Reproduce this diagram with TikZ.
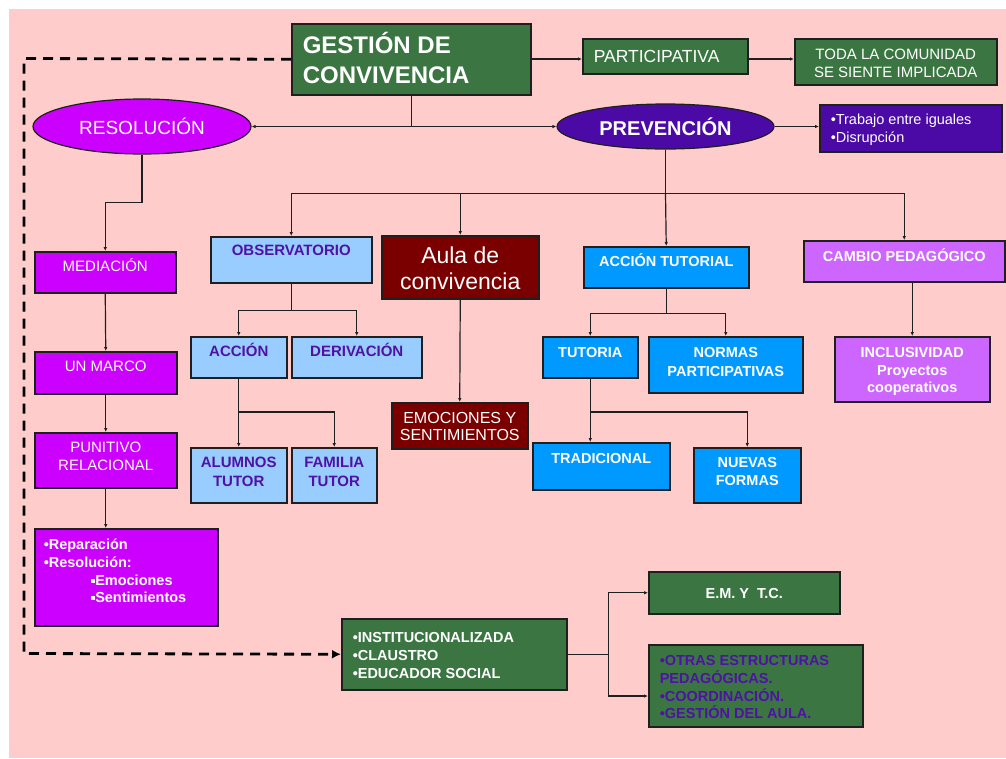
\documentclass[tikz,border=0pt]{standalone}
\usepackage{fontspec}
\setmainfont{Liberation Sans}
\usetikzlibrary{arrows.meta,shapes.geometric}
\definecolor{bgpink}{HTML}{FFCCCC}
\definecolor{dgreen}{HTML}{3B7642}
\definecolor{magen}{HTML}{CC00FF}
\definecolor{indig}{HTML}{4B0AA5}
\definecolor{lblue}{HTML}{99CCFF}
\definecolor{bblue}{HTML}{0099FF}
\definecolor{lpurp}{HTML}{CC66FF}
\definecolor{dred}{HTML}{7A0000}
\definecolor{txtind}{HTML}{4E12A6}
\newcommand{\cbx}[4]{\parbox[c][#2pt][t]{#1pt}{\centering\vspace*{\dimexpr#3pt-1em\relax}\rule{0pt}{1em}#4\par}}
\newcommand{\lbx}[5]{\parbox[c][#2pt][t]{#1pt}{\raggedright\leftskip=#4pt\vspace*{\dimexpr#3pt-1em\relax}\rule{0pt}{1em}#5\par}}
\newcommand{\fsz}[2]{\fontsize{#1pt}{#2pt}\selectfont}
\newcommand{\sqb}{\raisebox{2.5pt}{\rule{4pt}{4pt}}\hspace{0.5pt}}
\begin{document}
\begin{tikzpicture}[x=1pt,y=-1pt,
  bx/.style={draw=black!88, line width=1.5pt, inner sep=0pt, anchor=north west, text=white},
  ell/.style={ellipse, draw=black!88, line width=1.2pt, inner sep=0pt, text=white},
  arr/.style={draw=black!88, line width=1.2pt, -{Latex[length=4pt,width=3.5pt]}},
  ln/.style={draw=black!88, line width=1.2pt},
  dsh/.style={draw=black, line width=2.8pt, dash pattern=on 10pt off 7pt, -{Latex[length=9pt,width=9pt]}}
]
\useasboundingbox (0,0) rectangle (1006,758);
\fill[bgpink] (9,9) rectangle (1006,758);

% top row
\node[bx, fill=dgreen, font=\bfseries\fsz{24}{30}] (gest) at (291,23) {\lbx{239}{71}{30}{11}{GESTIÓN DE\\CONVIVENCIA}};
\node[bx, fill=dgreen, font=\fsz{17.5}{20}] (part) at (582,38) {\lbx{165}{35}{24}{11}{PARTICIPATIVA}};
\node[bx, fill=dgreen, font=\fsz{15}{18}] (toda) at (794,38) {\cbx{202}{46}{21}{TODA LA COMUNIDAD\\SE SIENTE IMPLICADA}};

\node[ell, fill=magen, minimum width=218pt, minimum height=55pt, font=\fsz{19}{22}] (res) at (142,126.5) {RESOLUCIÓN};
\node[ell, fill=indig, minimum width=217pt, minimum height=45pt, font=\bfseries\fsz{20}{24}] (prev) at (665.5,126.5) {PREVENCIÓN};
\node[bx, fill=indig, font=\fsz{14.5}{18}] (trab) at (819,104) {\lbx{182}{47}{20}{11}{•Trabajo entre iguales\\•Disrupción}};

% left column
\node[bx, fill=magen, font=\fsz{15}{18}] (medi) at (34,251) {\cbx{141}{41}{20}{MEDIACIÓN}};
\node[bx, fill=magen, font=\fsz{15}{18}] (marco) at (34,351) {\cbx{142}{42}{20}{UN MARCO}};
\node[bx, fill=magen, font=\fsz{15}{18}] (puni) at (34,432) {\cbx{142}{55}{20}{PUNITIVO\\RELACIONAL}};
\node[bx, fill=magen, font=\bfseries\fsz{14.5}{17.7}] (repar) at (34,528) {\lbx{183}{97}{21}{9}{•Reparación\\•Resolución:\\\hspace*{47pt}\sqb Emociones\\\hspace*{47pt}\sqb Sentimientos}};

% observatorio
\node[bx, fill=lblue, text=txtind, font=\bfseries\fsz{15}{19}] (obs) at (210,236) {\cbx{161}{46}{19}{OBSERVATORIO}};
\node[bx, fill=lblue, text=txtind, font=\bfseries\fsz{15}{19}] (accion) at (190,336) {\cbx{96}{41}{20}{ACCIÓN}};
\node[bx, fill=lblue, text=txtind, font=\bfseries\fsz{15}{19}] (deriv) at (291,336) {\cbx{130}{41}{20}{DERIVACIÓN}};
\node[bx, fill=lblue, text=txtind, font=\bfseries\fsz{15}{19}] (alum) at (190,447) {\cbx{96}{55}{20}{ALUMNOS\\TUTOR}};
\node[bx, fill=lblue, text=txtind, font=\bfseries\fsz{15}{19}] (fam) at (291,447) {\cbx{85}{55}{20}{FAMILIA\\TUTOR}};

% aula
\node[bx, fill=dred, font=\fsz{23}{26}] (aula) at (381,235) {\cbx{157}{63}{28}{Aula de\\convivencia}};
\node[bx, fill=dred, font=\fsz{16}{17}] (emo) at (391,402) {\cbx{136}{46}{21}{EMOCIONES Y\\SENTIMIENTOS}};

% accion tutorial
\node[bx, fill=bblue, font=\bfseries\fsz{14.5}{19}] (acct) at (583,246) {\cbx{165}{41}{20}{ACCIÓN TUTORIAL}};
\node[bx, fill=bblue, font=\bfseries\fsz{14.5}{19}] (tut) at (542,336) {\cbx{95}{41}{21}{TUTORIA}};
\node[bx, fill=bblue, font=\bfseries\fsz{14.5}{19}] (norm) at (648,336) {\cbx{154}{56}{21}{NORMAS\\PARTICIPATIVAS}};
\node[bx, fill=bblue, font=\bfseries\fsz{14.5}{19}] (trad) at (532,442) {\cbx{137}{47}{21}{TRADICIONAL}};
\node[bx, fill=bblue, font=\bfseries\fsz{14.5}{18}] (nuev) at (693,447) {\cbx{107}{55}{20}{NUEVAS\\FORMAS}};

% cambio
\node[bx, fill=lpurp, font=\bfseries\fsz{14.5}{19}] (cambio) at (803,240) {\cbx{201}{41}{21}{CAMBIO PEDAGÓGICO}};
\node[bx, fill=lpurp, font=\bfseries\fsz{14.5}{17.5}] (incl) at (834,336) {\cbx{155}{65}{21}{INCLUSIVIDAD\\Proyectos\\cooperativos}};

% bottom
\node[bx, fill=dgreen, font=\bfseries\fsz{14.5}{18}] (inst) at (341,618) {\lbx{225}{71}{24}{11}{•INSTITUCIONALIZADA\\•CLAUSTRO\\•EDUCADOR SOCIAL}};
\node[bx, fill=dgreen, font=\bfseries\fsz{14.5}{18}] (emt) at (648,571) {\cbx{191}{42}{27}{E.M. Y\ \ T.C.}};
\node[bx, fill=dgreen, text=txtind, font=\bfseries\fsz{14.5}{17.7}] (otras) at (648,644) {\lbx{214}{82}{21}{11}{•OTRAS ESTRUCTURAS PEDAGÓGICAS.\\•COORDINACIÓN.\\•GESTIÓN DEL AULA.}};

% connectors top
\draw[arr] (gest.east |- 0,59) -- (part.west |- 0,59);
\draw[arr] (part.east |- 0,59) -- (toda.west |- 0,59);
\draw[ln] (gest.south) -- (gest.south |- res.east) coordinate (j1);
\draw[arr] (j1) -- (res.east);
\draw[arr] (j1) -- (prev.west);
\draw[arr] (prev.east) -- (trab.west |- prev.east);

% prevencion bus
\draw[ln] (prev.south) -- ++(0,44) coordinate (b0);
\draw[arr] (b0) -| (obs.north);
\draw[arr] (b0) -| (aula.north);
\draw[arr] (b0) -- (acct.north);
\draw[arr] (b0) -| (cambio.north);

% resolucion chain
\draw[arr] (res.south) -- ++(0,48) -| (medi.north);
\draw[arr] (medi.south) -- (marco.north);
\draw[arr] (marco.south) -- (puni.north);
\draw[arr] (puni.south) -- (puni.south |- repar.north);

% observatorio
\draw[ln] (obs.south) -- ++(0,27) coordinate (b1);
\draw[arr] (b1) -| (accion.north);
\draw[arr] (b1) -| (deriv.north);
\draw[arr] (accion.south) -- (alum.north);
\draw[arr] (accion.south |- 0,412) -| (fam.north);

% aula
\draw[arr] (aula.south) -- (emo.north);

% accion tutorial
\draw[ln] (acct.south) -- ++(0,25) coordinate (b2);
\draw[arr] (b2) -| (tut.north);
\draw[arr] (b2) -| (norm.north);
\draw[arr] (tut.south) -- (tut.south |- trad.north);
\draw[arr] (tut.south |- 0,412) -| (nuev.north);

% cambio
\draw[arr] (incl.north |- cambio.south) -- (incl.north);

% dashed
\coordinate (d1) at (24,58.5);
\coordinate (d2) at (24,653.5);
\draw[dsh] (gest.west) -- (d1) -- (d2) -- (inst.west);

% institucionalizada
\draw[ln] (inst.east) -- ++(41,0) coordinate (b3);
\draw[arr] (b3) |- (emt.west);
\draw[arr] (b3) |- (otras.west |- 0,696);
\end{tikzpicture}
\end{document}
